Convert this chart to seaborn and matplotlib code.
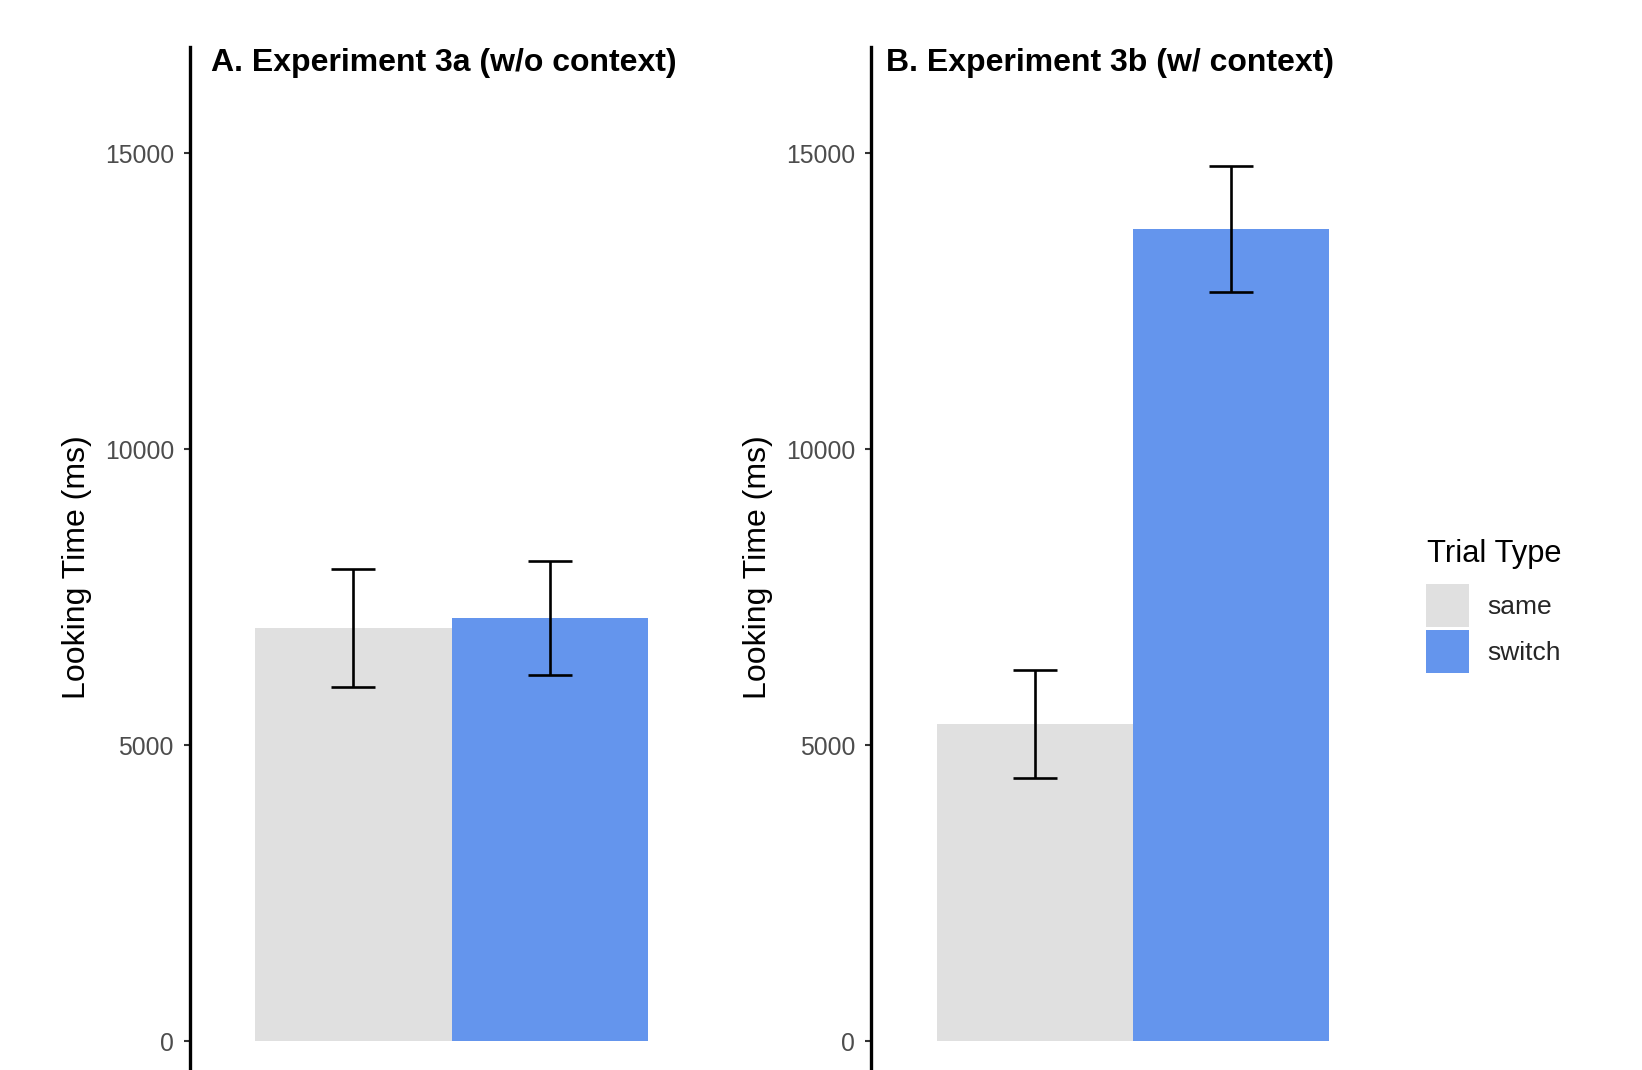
import numpy as np
import pandas as pd
import matplotlib
matplotlib.use("Agg")
import matplotlib.pyplot as plt
import seaborn as sns

# values (mean looking time and SE, ms)
experiments = ["3a", "3b"]
titles = ["A. Experiment 3a (w/o context)", "B. Experiment 3b (w/ context)"]
trial_types = ["same", "switch"]
means_3a = [6985, 7155]
se_3a = [995, 960]
means_3b = [5360, 13725]
se_3b = [908, 1064]
yticks = [0, 5000, 10000, 15000]

colors = {"same": "#E0E0E0", "switch": "#6495ED"}

df = pd.DataFrame({
    "Experiment": ["3a", "3a", "3b", "3b"],
    "Trial Type": trial_types * 2,
    "Looking Time": means_3a + means_3b,
    "SE": se_3a + se_3b,
})

sns.set_theme(style="white")
plt.rcParams["font.family"] = ["Liberation Sans", "DejaVu Sans"]

W, H = 1642, 1070
fig = plt.figure(figsize=(W / 100, H / 100), dpi=100)

# axes geometry in pixels (top 47, bottom below the picture edge)
ax_w = 523
ax_top, ax_bot = 47, 1088.8
lefts = [190, 871.3]
title_dx = [0.0402, 0.0287]

axes = []
for i, exp in enumerate(experiments):
    ax = fig.add_axes([lefts[i] / W, 1 - ax_bot / H, ax_w / W, (ax_bot - ax_top) / H])
    sub = df[df["Experiment"] == exp]
    sns.barplot(data=sub, x="Experiment", y="Looking Time", hue="Trial Type",
                hue_order=trial_types, palette=colors, width=0.9, saturation=1,
                errorbar=None, linewidth=0, legend=(i == 1), ax=ax)

    bars = sorted([p for p in ax.patches if p.get_height() > 0], key=lambda p: p.get_x())
    for p, se in zip(bars, sub["SE"].values):
        ax.errorbar(p.get_x() + p.get_width() / 2, p.get_height(), yerr=se,
                    fmt="none", ecolor="black", elinewidth=1.9,
                    capsize=15.6, capthick=1.9, zorder=5)

    ax.set_xlim(-0.6, 0.6)
    ax.set_ylim(-802, 16796)
    ax.set_yticks(yticks)
    ax.set_yticklabels([str(t) for t in yticks])
    ax.set_xticks([])
    ax.set_xlabel("")
    ax.set_ylabel("Looking Time (ms)", fontsize=23, color="black")
    ax.yaxis.set_label_coords(-0.188, 0.501)
    ax.tick_params(axis="y", left=True, length=4, width=1.5, color="#333333",
                   labelcolor="#4D4D4D", labelsize=17.8, pad=7.6)
    for s in ["top", "right", "bottom"]:
        ax.spines[s].set_visible(False)
    ax.spines["left"].set_color("black")
    ax.spines["left"].set_linewidth(2.4)
    ax.text(title_dx[i], 0.9774, titles[i], transform=ax.transAxes, ha="left",
            va="baseline", fontsize=23, fontweight="bold", color="black")
    axes.append(ax)

handles, labels = axes[1].get_legend_handles_labels()
axes[1].get_legend().remove()
fig.legend(handles, labels, loc="upper left",
           bbox_to_anchor=(1426.3 / W, 1 - 584.3 / H), frameon=False,
           fontsize=19, handlelength=1.63, handleheight=2.13, labelspacing=0.12,
           handletextpad=0.69, borderpad=0, borderaxespad=0)
fig.text(1427 / W, 1 - 562 / H, "Trial Type", ha="left", va="baseline",
         fontsize=22.2, color="black")

fig.savefig("out.png", dpi=100)
